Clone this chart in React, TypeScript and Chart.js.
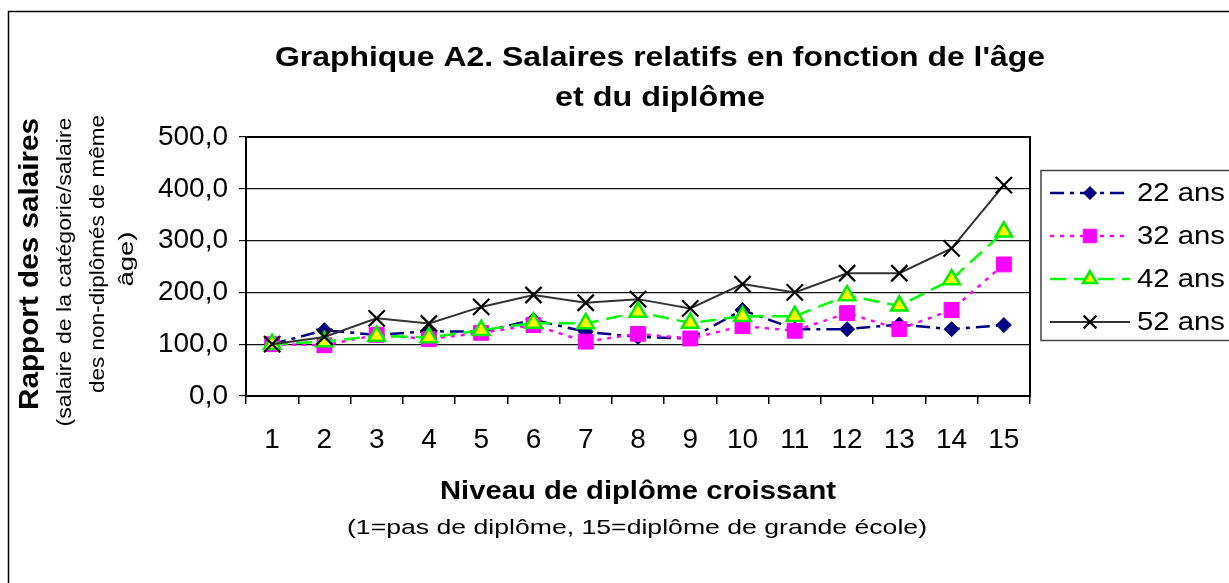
import React, { useEffect, useRef } from 'react';
import { Chart, registerables } from 'chart.js';

Chart.register(...registerables);

// ---------- data ----------
const categories = ['1', '2', '3', '4', '5', '6', '7', '8', '9', '10', '11', '12', '13', '14', '15'];
const seriesLabels = ['22 ans', '32 ans', '42 ans', '52 ans'];
const ans22 = [100, 127, 118, 125, 124, 147, 124, 114, 111, 166, 129, 129, 138, 129, 137];
const ans32 = [100, 98, 118, 110, 122, 137, 105, 120, 111, 135, 126, 160, 129, 166, 254];
const ans42 = [100, 105, 116, 113, 127, 141, 140, 162, 141, 154, 154, 194, 174, 225, 317];
const ans52 = [100, 114, 150, 140, 172, 195, 180, 187, 169, 216, 200, 237, 237, 285, 407];
const yMin = 0;
const yMax = 500;
const yStep = 100;

const titleLines = ["Graphique A2. Salaires relatifs en fonction de l'âge", 'et du diplôme'];
const yTitle = 'Rapport des salaires';
const ySubLines = ['(salaire de la catégorie/salaire', 'des non-diplômés de même', 'âge)'];
const xTitle = 'Niveau de diplôme croissant';
const xSub = '(1=pas de diplôme, 15=diplôme de grande école)';

const FONT = '"Liberation Sans", Arial, Helvetica, sans-serif';

type Sty = {
  color: string; width: number; dash: number[];
  point: string; r: number; lr: number; bg: string; pb: string; pbw: number;
};

const styles: Sty[] = [
  { color: '#000080', width: 2.5, dash: [14, 6, 4, 6], point: 'rectRot', r: 7.5, lr: 6.5, bg: '#000080', pb: '#000080', pbw: 1 },
  { color: '#FF00FF', width: 2.5, dash: [4, 6], point: 'rect', r: 10.5, lr: 9.5, bg: '#FF00FF', pb: '#FF00FF', pbw: 1 },
  { color: '#00FF00', width: 2.5, dash: [16, 8], point: 'triangle', r: 9.5, lr: 8, bg: '#FFFF00', pb: '#00EE00', pbw: 2.5 },
  { color: '#333333', width: 2, dash: [], point: 'crossRot', r: 11.5, lr: 9, bg: '#000000', pb: '#000000', pbw: 2.2 },
];

const seriesData = [ans22, ans32, ans42, ans52];

function fmt(v: number) {
  return v.toFixed(1).replace('.', ',');
}

function stretchText(
  ctx: CanvasRenderingContext2D, text: string, cx: number, cy: number,
  font: string, targetW: number, rot = 0, align: 'center' | 'left' = 'center'
) {
  ctx.save();
  ctx.font = font;
  ctx.fillStyle = '#000';
  ctx.textBaseline = 'middle';
  ctx.textAlign = align;
  const w = ctx.measureText(text).width;
  const sx = targetW > 0 ? targetW / w : 1;
  ctx.translate(cx, cy);
  if (rot) ctx.rotate(rot);
  ctx.scale(sx, 1);
  ctx.fillText(text, 0, 0);
  ctx.restore();
}

function drawMarker(ctx: CanvasRenderingContext2D, s: Sty, x: number, y: number, r: number) {
  ctx.save();
  ctx.setLineDash([]);
  ctx.fillStyle = s.bg;
  ctx.strokeStyle = s.pb;
  ctx.lineWidth = s.pbw;
  ctx.beginPath();
  if (s.point === 'rectRot') {
    ctx.moveTo(x, y - r); ctx.lineTo(x + r, y); ctx.lineTo(x, y + r); ctx.lineTo(x - r, y); ctx.closePath();
    ctx.fill(); ctx.stroke();
  } else if (s.point === 'rect') {
    const h = r * Math.SQRT1_2;
    ctx.rect(x - h, y - h, 2 * h, 2 * h);
    ctx.fill(); ctx.stroke();
  } else if (s.point === 'triangle') {
    ctx.moveTo(x, y - r);
    ctx.lineTo(x + r * Math.sin(Math.PI / 3), y + r * 0.5);
    ctx.lineTo(x - r * Math.sin(Math.PI / 3), y + r * 0.5);
    ctx.closePath();
    ctx.fill(); ctx.stroke();
  } else {
    const h = r * Math.SQRT1_2;
    ctx.moveTo(x - h, y - h); ctx.lineTo(x + h, y + h);
    ctx.moveTo(x + h, y - h); ctx.lineTo(x - h, y + h);
    ctx.stroke();
  }
  ctx.restore();
}

const decorPlugin = {
  id: 'decor',
  beforeDraw(chart: any) {
    const ctx: CanvasRenderingContext2D = chart.ctx;
    ctx.save();
    ctx.fillStyle = '#fff';
    ctx.fillRect(0, 0, chart.width, chart.height);
    ctx.restore();
  },
  afterDraw(chart: any) {
    const ctx: CanvasRenderingContext2D = chart.ctx;
    const a = chart.chartArea;
    // plot frame
    ctx.save();
    ctx.strokeStyle = '#000';
    ctx.lineWidth = 2;
    ctx.strokeRect(a.left, a.top, a.right - a.left, a.bottom - a.top);
    // outer frame
    ctx.lineWidth = 1.5;
    ctx.strokeRect(8.5, 11.5, 1400, 800);
    ctx.restore();

    // title
    stretchText(ctx, titleLines[0], 660, 58, `bold 28px ${FONT}`, 770);
    stretchText(ctx, titleLines[1], 660, 98, `bold 28px ${FONT}`, 210);

    // y titles
    stretchText(ctx, yTitle, 31, 264, `bold 27px ${FONT}`, 292, -Math.PI / 2);
    stretchText(ctx, ySubLines[0], 65, 272, `20px ${FONT}`, 309, -Math.PI / 2);
    stretchText(ctx, ySubLines[1], 98, 254, `20px ${FONT}`, 278, -Math.PI / 2);
    stretchText(ctx, ySubLines[2], 127, 259, `20px ${FONT}`, 55, -Math.PI / 2);

    // x titles
    stretchText(ctx, xTitle, 638, 492, `bold 25px ${FONT}`, 396);
    stretchText(ctx, xSub, 637, 528, `21px ${FONT}`, 580);

    // legend
    ctx.save();
    ctx.strokeStyle = '#444';
    ctx.lineWidth = 1.5;
    ctx.strokeRect(1041, 170.5, 400, 170);
    ctx.restore();
    const rows = [193, 236, 279, 322];
    seriesLabels.forEach((lab, i) => {
      const s = styles[i];
      const y = rows[i];
      ctx.save();
      ctx.strokeStyle = s.color;
      ctx.lineWidth = s.width;
      ctx.setLineDash(s.dash);
      ctx.beginPath();
      ctx.moveTo(1050, y);
      ctx.lineTo(1130, y);
      ctx.stroke();
      ctx.restore();
      drawMarker(ctx, s, 1090, y, s.lr);
      stretchText(ctx, lab, 1137, y + 1, `26px ${FONT}`, 88, 0, 'left');
    });
  },
};

export default function App() {
  const ref = useRef<HTMLCanvasElement>(null);
  useEffect(() => {
    if (!ref.current) return;
    const chart = new Chart(ref.current, {
      type: 'line',
      data: {
        labels: categories,
        datasets: seriesData.map((d, i) => ({
          label: seriesLabels[i],
          data: d,
          order: 4 - i,
          borderColor: styles[i].color,
          borderWidth: styles[i].width,
          borderDash: styles[i].dash,
          backgroundColor: styles[i].bg,
          pointStyle: styles[i].point as any,
          pointRadius: styles[i].r,
          pointBackgroundColor: styles[i].bg,
          pointBorderColor: styles[i].pb,
          pointBorderWidth: styles[i].pbw,
          tension: 0,
          fill: false,
        })),
      },
      options: {
        animation: false,
        responsive: false,
        maintainAspectRatio: false,
        layout: { padding: { left: 0, top: 137, right: 199, bottom: 0 } },
        plugins: {
          legend: { display: false },
          title: { display: false },
          tooltip: { enabled: false },
        },
        scales: {
          x: {
            type: 'category',
            offset: true,
            grid: { offset: true, drawOnChartArea: false, drawTicks: true, tickLength: 8, color: '#000', lineWidth: 1.5 },
            border: { display: true, color: '#000', width: 2 },
            ticks: { font: { family: FONT, size: 28 }, color: '#000', padding: 19, maxRotation: 0, autoSkip: false },
            afterFit: (s: any) => { s.height = 187; },
          },
          y: {
            min: yMin,
            max: yMax,
            ticks: {
              stepSize: yStep,
              callback: (v: any) => fmt(Number(v)),
              font: { family: FONT, size: 28 },
              color: '#000',
              padding: 11,
            },
            grid: { color: '#111', lineWidth: 1.2, tickLength: 7, drawTicks: true },
            border: { display: true, color: '#000', width: 2 },
            afterFit: (s: any) => { s.width = 246; },
          },
        },
      } as any,
      plugins: [decorPlugin],
    });
    return () => chart.destroy();
  }, []);
  return (
    <div style={{ position: 'absolute', left: 0, top: 0, width: 1229, height: 583, background: '#fff' }}>
      <canvas ref={ref} width={1229} height={583} style={{ width: 1229, height: 583, display: 'block' }} />
    </div>
  );
}
